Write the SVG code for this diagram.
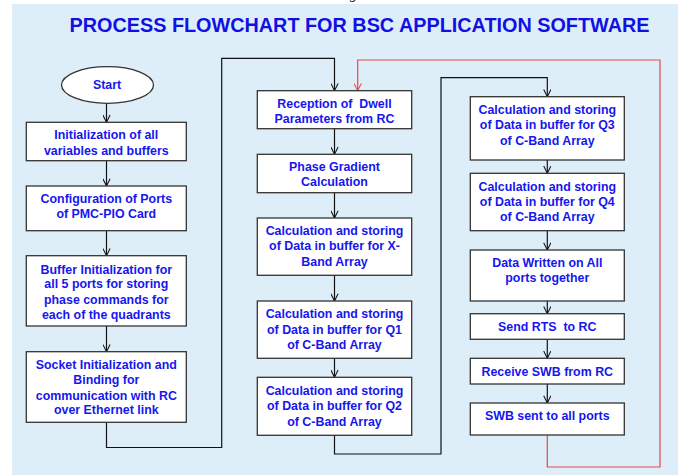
<svg xmlns="http://www.w3.org/2000/svg" width="678" height="475" viewBox="0 0 678 475">
<defs>
<style>
.box{fill:#fff;stroke:#333;stroke-width:1.3}
.t{font-family:"Liberation Sans",Arial,sans-serif;font-weight:bold;font-size:12.4px;fill:#1616ee;text-anchor:middle;white-space:pre}
.c{fill:none;stroke:#111;stroke-width:1.2}
.r{fill:none;stroke:#e84848;stroke-width:1.2}
</style>
<marker id="ah" viewBox="0 0 10 10" refX="10" refY="5" markerWidth="8" markerHeight="8" markerUnits="userSpaceOnUse" orient="auto">
<path d="M1,0.5 L10,5 L1,9.5" fill="none" stroke="#111" stroke-width="1.3"/>
</marker>
<marker id="ahr" viewBox="0 0 10 10" refX="10" refY="5" markerWidth="8" markerHeight="8" markerUnits="userSpaceOnUse" orient="auto">
<path d="M1,0.5 L10,5 L1,9.5" fill="none" stroke="#e84848" stroke-width="1.3"/>
</marker>
</defs>
<rect x="0" y="0" width="678" height="475" fill="#fff"/>
<rect x="12" y="4" width="666" height="471" fill="#deeef9"/>
<text x="350" y="-1" font-family="Liberation Serif,serif" font-style="italic" font-size="14" fill="#000">g</text>
<text x="69.5" y="31.7" font-family="Liberation Sans,Arial,sans-serif" font-weight="bold" font-size="20" fill="#1010e6" textLength="580" lengthAdjust="spacingAndGlyphs">PROCESS FLOWCHART FOR BSC APPLICATION SOFTWARE</text>

<g id="connectors">
<line class="c" x1="106.5" y1="103.3" x2="106.5" y2="122.3" marker-end="url(#ah)"/>
<line class="c" x1="106.5" y1="160.7" x2="106.5" y2="186" marker-end="url(#ah)"/>
<line class="c" x1="106.5" y1="230.7" x2="106.5" y2="255.7" marker-end="url(#ah)"/>
<line class="c" x1="106.5" y1="326" x2="106.5" y2="351.7" marker-end="url(#ah)"/>
<polyline class="c" points="106.5,422.3 106.5,447.5 221.7,447.5 221.7,58.3 334.5,58.3 334.5,90.7" marker-end="url(#ah)"/>
<line class="c" x1="334.5" y1="128.7" x2="334.5" y2="154.3" marker-end="url(#ah)"/>
<line class="c" x1="334.5" y1="192.7" x2="334.5" y2="218" marker-end="url(#ah)"/>
<line class="c" x1="334.5" y1="275.3" x2="334.5" y2="301" marker-end="url(#ah)"/>
<line class="c" x1="334.5" y1="358.3" x2="334.5" y2="377.3" marker-end="url(#ah)"/>
<polyline class="c" points="334.5,435.3 334.5,454 441,454 441,77.7 547.3,77.7 547.3,96.7" marker-end="url(#ah)"/>
<line class="c" x1="547.3" y1="160" x2="547.3" y2="173.3" marker-end="url(#ah)"/>
<line class="c" x1="547.3" y1="230.7" x2="547.3" y2="250" marker-end="url(#ah)"/>
<line class="c" x1="547.3" y1="301" x2="547.3" y2="313.7" marker-end="url(#ah)"/>
<line class="c" x1="547.3" y1="339.3" x2="547.3" y2="358.3" marker-end="url(#ah)"/>
<line class="c" x1="547.3" y1="384" x2="547.3" y2="403" marker-end="url(#ah)"/>
<polyline class="r" points="547.3,435 547.3,467 660,467 660,60 357.7,60 357.7,90.7" marker-end="url(#ahr)"/>
</g>

<g id="start">
<ellipse cx="107.5" cy="85" rx="46" ry="18.3" fill="#fff" stroke="#333" stroke-width="1.3"/>
<text class="t" x="107" y="88.5">Start</text>
</g>
<g id="n1">
<rect class="box" x="26.3" y="122.3" width="160" height="38.4"/>
<text class="t" x="106.3" y="139.4">Initialization of all</text>
<text class="t" x="106.3" y="155.1">variables and buffers</text>
</g>
<g id="n2">
<rect class="box" x="26.3" y="186" width="160" height="44.7"/>
<text class="t" x="106.3" y="203.4">Configuration of Ports</text>
<text class="t" x="106.3" y="218.1">of PMC-PIO Card</text>
</g>
<g id="n3">
<rect class="box" x="26.3" y="255.7" width="160" height="70.3"/>
<text class="t" x="106.3" y="273.7">Buffer Initialization for</text>
<text class="t" x="106.3" y="288.4">all 5 ports for storing</text>
<text class="t" x="106.3" y="304.4">phase commands for</text>
<text class="t" x="106.3" y="318.7">each of the quadrants</text>
</g>
<g id="n4">
<rect class="box" x="26.3" y="351.7" width="160" height="70.6"/>
<text class="t" x="106.3" y="369.4">Socket Initialization and</text>
<text class="t" x="106.3" y="384.4">Binding for</text>
<text class="t" x="106.3" y="400.1">communication with RC</text>
<text class="t" x="106.3" y="414.4">over Ethernet link</text>
</g>
<g id="n5">
<rect class="box" x="257.3" y="90.7" width="154.4" height="38"/>
<text class="t" x="334.5" y="107.7">Reception of  Dwell</text>
<text class="t" x="334.5" y="123.4">Parameters from RC</text>
</g>
<g id="n6">
<rect class="box" x="257.3" y="154.3" width="154.4" height="38.4"/>
<text class="t" x="334.5" y="171.1">Phase Gradient</text>
<text class="t" x="334.5" y="186.1">Calculation</text>
</g>
<g id="n7">
<rect class="box" x="257.3" y="218" width="154.4" height="57.3"/>
<text class="t" x="334.5" y="235.4">Calculation and storing</text>
<text class="t" x="334.5" y="250.1">of Data in buffer for X-</text>
<text class="t" x="334.5" y="266.1">Band Array</text>
</g>
<g id="n8">
<rect class="box" x="257.3" y="301" width="154.4" height="57.3"/>
<text class="t" x="334.5" y="318.4">Calculation and storing</text>
<text class="t" x="334.5" y="333.7">of Data in buffer for Q1</text>
<text class="t" x="334.5" y="349.4">of C-Band Array</text>
</g>
<g id="n9">
<rect class="box" x="257.3" y="377.3" width="154.4" height="58"/>
<text class="t" x="334.5" y="395.1">Calculation and storing</text>
<text class="t" x="334.5" y="410.1">of Data in buffer for Q2</text>
<text class="t" x="334.5" y="426.1">of C-Band Array</text>
</g>
<g id="n10">
<rect class="box" x="470.3" y="96.7" width="154" height="63.3"/>
<text class="t" x="547.3" y="114.4">Calculation and storing</text>
<text class="t" x="547.3" y="129.4">of Data in buffer for Q3</text>
<text class="t" x="547.3" y="145.1">of C-Band Array</text>
</g>
<g id="n11">
<rect class="box" x="470.3" y="173.3" width="154" height="57.4"/>
<text class="t" x="547.3" y="191.1">Calculation and storing</text>
<text class="t" x="547.3" y="206.1">of Data in buffer for Q4</text>
<text class="t" x="547.3" y="221.1">of C-Band Array</text>
</g>
<g id="n12">
<rect class="box" x="470.3" y="250" width="154" height="51"/>
<text class="t" x="547.3" y="267.1">Data Written on All</text>
<text class="t" x="547.3" y="281.7">ports together</text>
</g>
<g id="n13">
<rect class="box" x="470.3" y="313.7" width="154" height="25.6"/>
<text class="t" x="547.3" y="331.1">Send RTS  to RC</text>
</g>
<g id="n14">
<rect class="box" x="470.3" y="358.3" width="154" height="25.7"/>
<text class="t" x="547.3" y="376.1">Receive SWB from RC</text>
</g>
<g id="n15">
<rect class="box" x="470.3" y="403" width="154" height="32"/>
<text class="t" x="547.3" y="420.1">SWB sent to all ports</text>
</g>
</svg>
